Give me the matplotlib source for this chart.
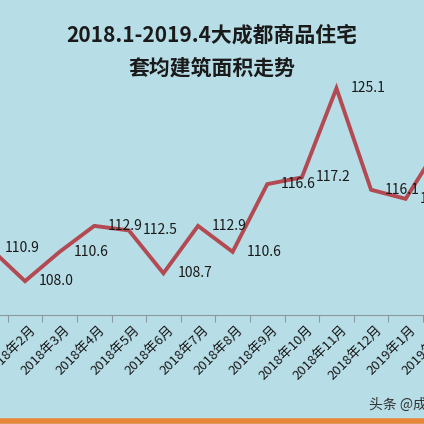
import matplotlib
matplotlib.use("Agg")
import matplotlib.pyplot as plt

plt.rcParams['font.family'] = ['Noto Sans CJK SC', 'DejaVu Sans']

months = ["2018年1月","2018年2月","2018年3月","2018年4月","2018年5月","2018年6月",
          "2018年7月","2018年8月","2018年9月","2018年10月","2018年11月","2018年12月",
          "2019年1月","2019年2月","2019年3月","2019年4月"]
values = [110.9,108.0,110.6,112.9,112.5,108.7,112.9,110.6,116.6,117.2,125.1,116.1,
          115.3,120.2,118.5,117.0]
labels = ["110.9","108.0","110.6","112.9","112.5","108.7","112.9","110.6","116.6",
          "117.2","125.1","116.1","115.3","120.2","118.5","117.0"]

bg = "#b7dde7"
fig = plt.figure(figsize=(4.24, 4.24), dpi=100, facecolor=bg)
ax = fig.add_axes([0, 1-315/424, 1, (315-33)/424])
ax.set_facecolor(bg)
x = list(range(len(values)))
ax.plot(x, values, color="#b34a52", lw=2.8, solid_joinstyle='miter', clip_on=False)
for s in ["top", "left", "right"]:
    ax.spines[s].set_visible(False)
ax.spines["bottom"].set_color("#8a9aa0")
ax.set_yticks([])
ax.set_xticks([i + 0.5 for i in range(-1, 16)])
ax.set_xticklabels([])
ax.tick_params(axis='x', length=5, color="#8a9aa0")
ax.set_xlim(0.277, 12.53)
ax.set_ylim(105, 130)
for i, (v, lab) in enumerate(zip(values, labels)):
    ax.annotate(lab, (i, v), xytext=(10, 0), textcoords='offset points',
                fontsize=10, color="#1a1a1a", va='center', ha='left',
                annotation_clip=False)
    ax.annotate(months[i], (i, 105), xytext=(3, -6), textcoords='offset points',
                fontsize=9.5, color="#1a1a1a", rotation=45, ha='right', va='top',
                rotation_mode='anchor', annotation_clip=False)

fig.text(0.5, 1-35/424, "2018.1-2019.4大成都商品住宅", ha='center', va='center',
         fontsize=15, fontweight='bold', color="#1a1a1a")
fig.text(0.5, 1-68/424, "套均建筑面积走势", ha='center', va='center',
         fontsize=15, fontweight='bold', color="#1a1a1a")
fig.text(0.87, 1-405/424, "头条 @成都", ha='left', va='center', fontsize=10,
         color="#333333")
fig.add_artist(plt.Line2D([0, 1], [1-421/424]*2, color="#e8873a", lw=4,
                          transform=fig.transFigure))
fig.savefig("out.png", dpi=100, facecolor=bg)
